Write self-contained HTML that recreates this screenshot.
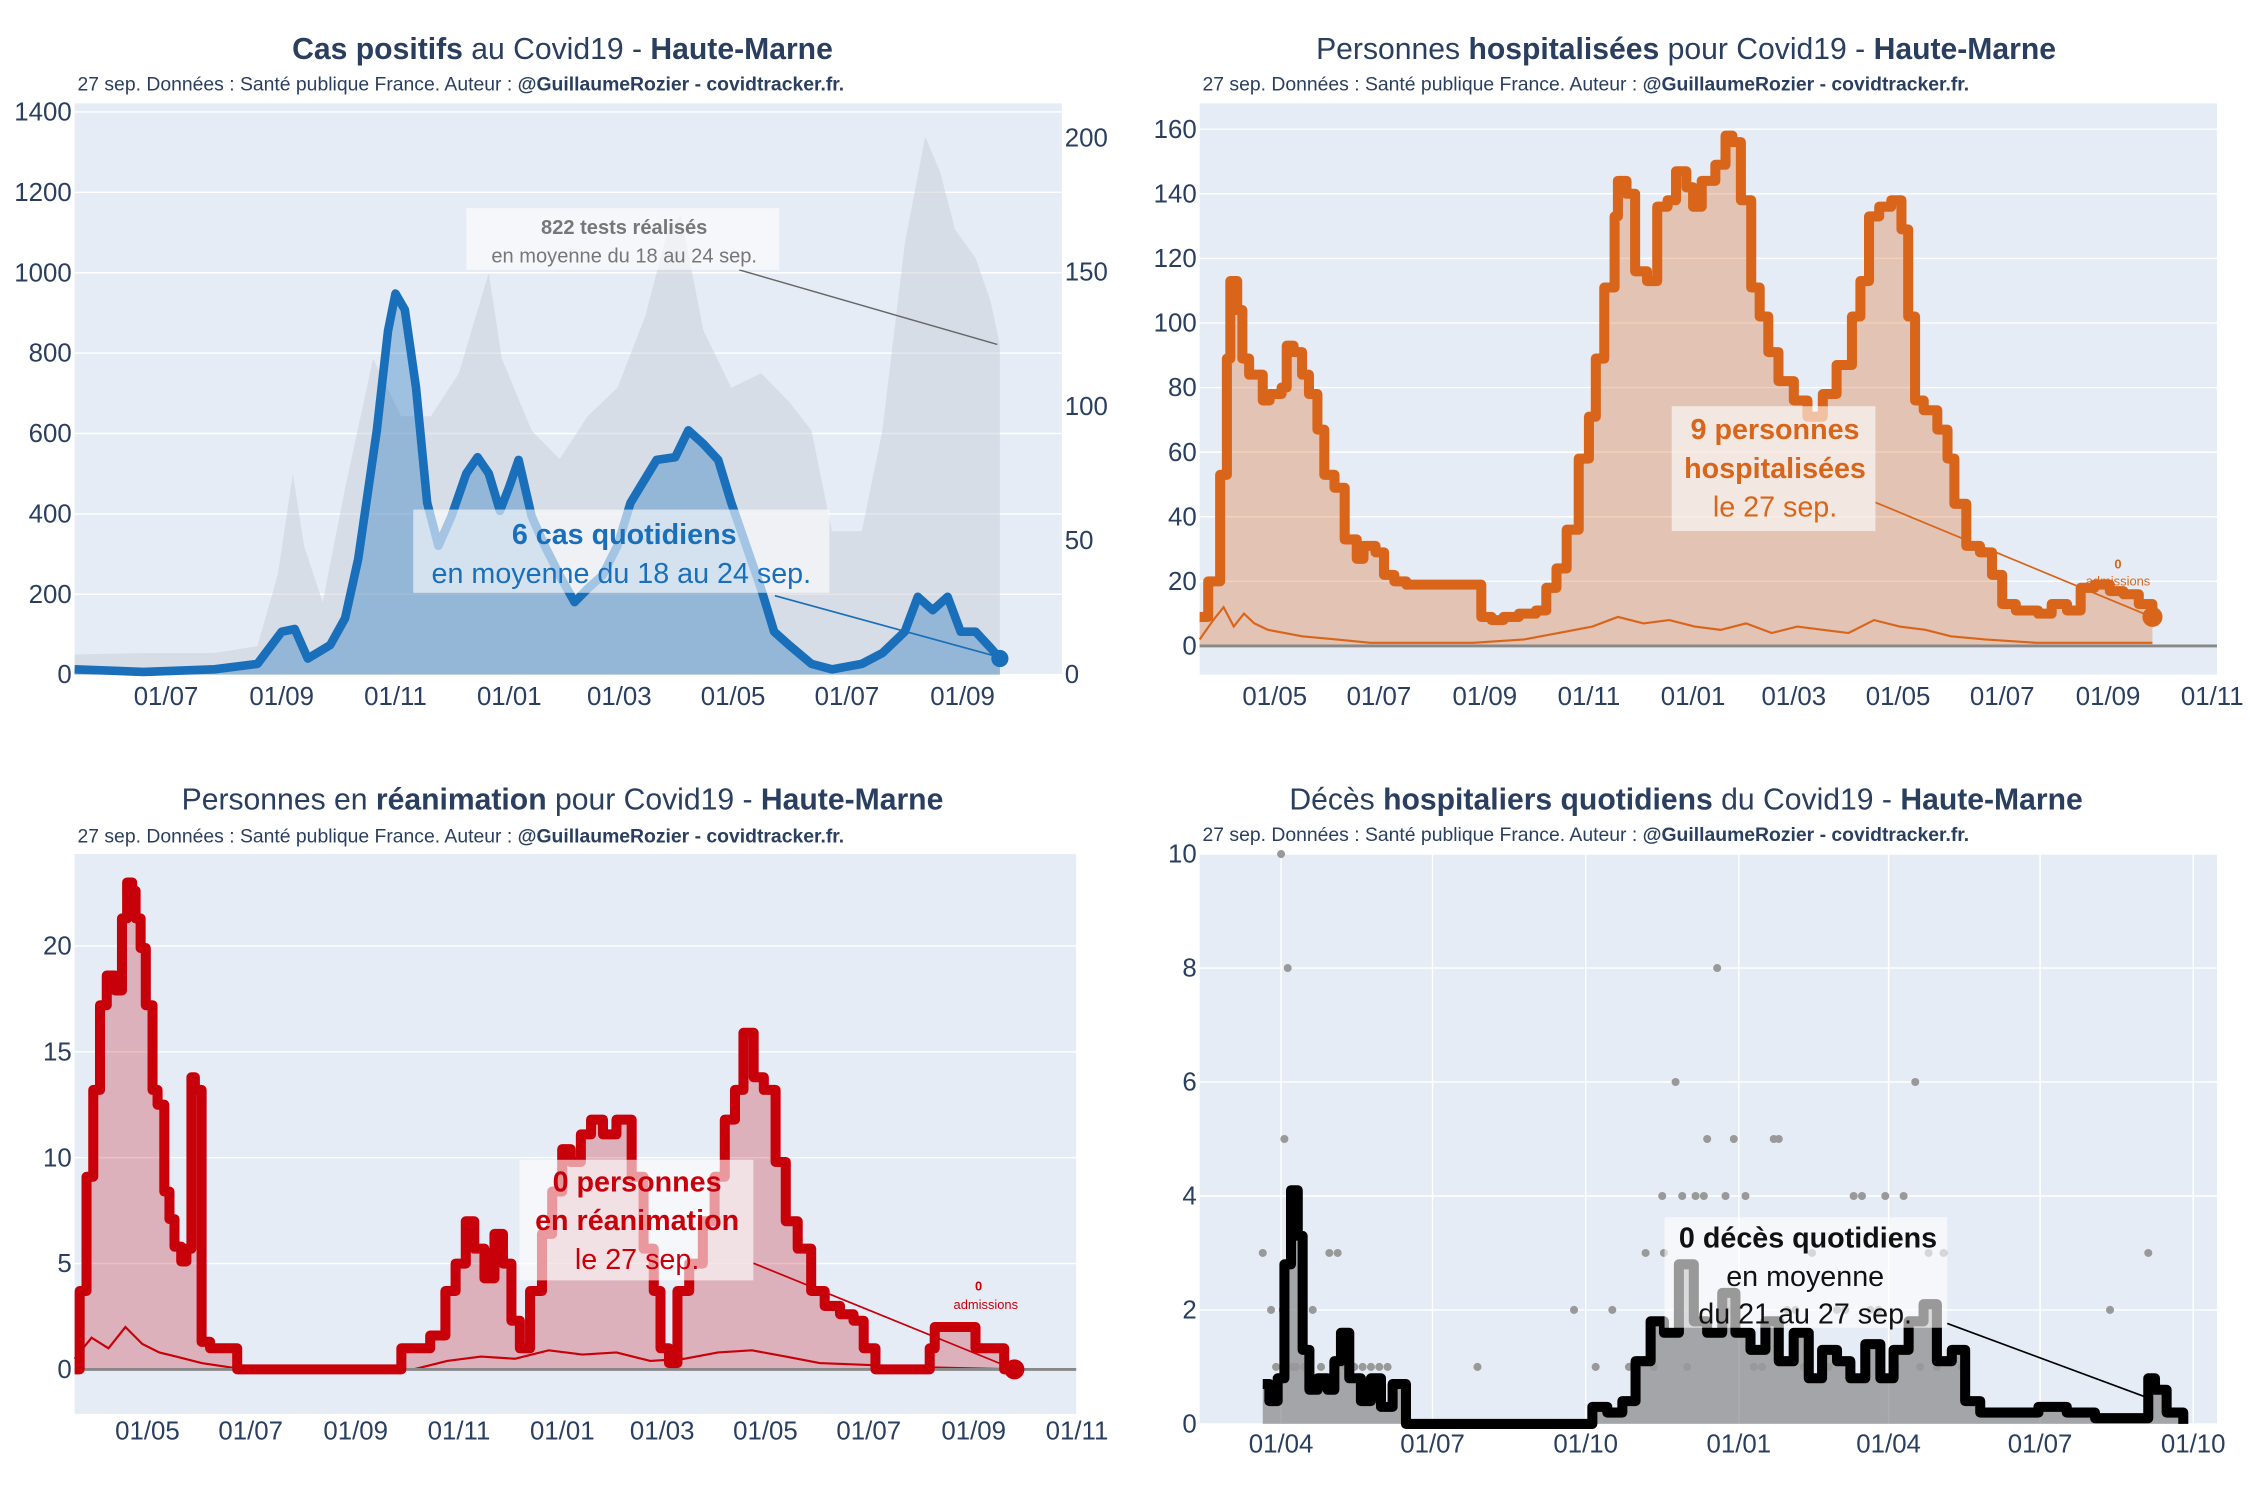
<!DOCTYPE html>
<html><head><meta charset="utf-8">
<style>
html,body{margin:0;padding:0;background:#fff;}
svg{display:block;font-family:"Liberation Sans",sans-serif;}
</style></head>
<body>
<svg id="root" xmlns="http://www.w3.org/2000/svg" width="2250" height="1500" viewBox="0 0 1568 1045" preserveAspectRatio="none">
<rect x="52" y="72" width="688" height="398" fill="#e5ecf6"/>
<rect x="836" y="72" width="709" height="398" fill="#e5ecf6"/>
<rect x="52" y="595" width="698" height="390" fill="#e5ecf6"/>
<rect x="836" y="595" width="709" height="397" fill="#e5ecf6"/>
<g id="g1"></g><g id="g2"></g><g id="g3"></g><g id="g4"></g>

<g fill="#2a3f5f">
<text x="392" y="41" font-size="21" text-anchor="middle"><tspan font-weight="bold">Cas positifs</tspan> au Covid19 - <tspan font-weight="bold">Haute-Marne</tspan></text>
<text x="54" y="63" font-size="13.5">27 sep. Données : Santé publique France. Auteur : <tspan font-weight="bold">@GuillaumeRozier - covidtracker.fr.</tspan></text>
<text x="1175" y="41" font-size="21" text-anchor="middle">Personnes <tspan font-weight="bold">hospitalisées</tspan> pour Covid19 - <tspan font-weight="bold">Haute-Marne</tspan></text>
<text x="838" y="63" font-size="13.5">27 sep. Données : Santé publique France. Auteur : <tspan font-weight="bold">@GuillaumeRozier - covidtracker.fr.</tspan></text>
<text x="392" y="564" font-size="21" text-anchor="middle">Personnes en <tspan font-weight="bold">réanimation</tspan> pour Covid19 - <tspan font-weight="bold">Haute-Marne</tspan></text>
<text x="54" y="587" font-size="13.5">27 sep. Données : Santé publique France. Auteur : <tspan font-weight="bold">@GuillaumeRozier - covidtracker.fr.</tspan></text>
<text x="1175" y="564" font-size="21" text-anchor="middle">Décès <tspan font-weight="bold">hospitaliers quotidiens</tspan> du Covid19 - <tspan font-weight="bold">Haute-Marne</tspan></text>
<text x="838" y="586" font-size="13.5">27 sep. Données : Santé publique France. Auteur : <tspan font-weight="bold">@GuillaumeRozier - covidtracker.fr.</tspan></text>
</g>

<g id="ann">
<line x1="515" y1="188" x2="695" y2="240" stroke="#666" stroke-width="1"/>
<rect x="325" y="145" width="218" height="43" fill="#fff" fill-opacity="0.6"/>
<text x="435" y="163" font-size="14" font-weight="bold" fill="#777" text-anchor="middle">822 tests réalisés</text>
<text x="435" y="183" font-size="14" fill="#777" text-anchor="middle">en moyenne du 18 au 24 sep.</text>
<line x1="540" y1="415" x2="697" y2="458" stroke="#1a6fba" stroke-width="1.2"/>
<rect x="288" y="355" width="290" height="58" fill="#fff" fill-opacity="0.6"/>
<text x="435" y="379" font-size="20" font-weight="bold" fill="#1a6fba" text-anchor="middle">6 cas quotidiens</text>
<text x="433" y="406" font-size="20" fill="#1a6fba" text-anchor="middle">en moyenne du 18 au 24 sep.</text>
<line x1="1307" y1="350" x2="1500" y2="430" stroke="#d9651a" stroke-width="1.2"/>
<rect x="1165" y="283" width="142" height="87" fill="#fff" fill-opacity="0.6"/>
<text x="1237" y="306" font-size="20" font-weight="bold" fill="#d9651a" text-anchor="middle">9 personnes</text>
<text x="1237" y="333" font-size="20" font-weight="bold" fill="#d9651a" text-anchor="middle">hospitalisées</text>
<text x="1237" y="360" font-size="20" fill="#d9651a" text-anchor="middle">le 27 sep.</text>
<text x="1476" y="396" font-size="9" font-weight="bold" fill="#d9651a" text-anchor="middle">0</text>
<text x="1476" y="408" font-size="9" fill="#d9651a" text-anchor="middle">admissions</text>
<line x1="525" y1="880" x2="707" y2="954" stroke="#c8000a" stroke-width="1.2"/>
<rect x="362" y="808" width="163" height="84" fill="#fff" fill-opacity="0.6"/>
<text x="444" y="830" font-size="20" font-weight="bold" fill="#c8000a" text-anchor="middle">0 personnes</text>
<text x="444" y="857" font-size="20" font-weight="bold" fill="#c8000a" text-anchor="middle">en réanimation</text>
<text x="444" y="884" font-size="20" fill="#c8000a" text-anchor="middle">le 27 sep.</text>
<text x="682" y="899" font-size="9" font-weight="bold" fill="#c8000a" text-anchor="middle">0</text>
<text x="687" y="912" font-size="9" fill="#c8000a" text-anchor="middle">admissions</text>
<line x1="1357" y1="922" x2="1500" y2="975" stroke="#000" stroke-width="1.2"/>
<rect x="1160" y="848" width="197" height="77" fill="#fff" fill-opacity="0.6"/>
<text x="1260" y="869" font-size="20" font-weight="bold" fill="#111" text-anchor="middle">0 décès quotidiens</text>
<text x="1258" y="896" font-size="20" fill="#111" text-anchor="middle">en moyenne</text>
<text x="1258" y="922" font-size="20" fill="#111" text-anchor="middle">du 21 au 27 sep.</text>
</g>
</svg>
<script>
// ---------- Chart 1 : cas positifs ----------
const casDays = [0,37,75,98,111,118,125,137,145,152,162,168,172,177,183,189,195,202,210,216,222,228,233,238,245,252,260,268,275,283,291,298,312,322,329,337,345,352,360,368,375,383,395,406,422,433,445,452,460,468,475,483,491,496];
const casVals = [2,1,2,4,16,17,6,11,21,43,91,128,142,136,107,64,48,59,75,81,75,61,70,80,59,48,37,27,32,37,48,64,80,81,91,86,80,64,48,32,16,11,4,2,4,8,16,29,24,29,16,16,10,6];
const testDays = [0,37,75,98,109,117,123,133,145,160,175,191,206,222,229,245,260,275,291,306,318,325,337,352,368,383,395,406,422,433,445,456,464,472,483,491,496];
const testVals = [50,54,54,71,250,500,320,180,464,786,643,643,750,1000,786,607,536,643,714,893,1107,1143,857,714,750,679,607,357,357,607,1071,1339,1250,1107,1036,929,821];
const casLeftTicks = [0,200,400,600,800,1000,1200,1400];
const casRightTicks = [0,50,100,150,200];
const casXTickDays = [49,111,172,233,292,353,414,476];
const casXTickLabels = ["01/07","01/09","01/11","01/01","01/03","01/05","01/07","01/09"];
// ---------- Chart 2 : hospitalisations ----------
const hospDays = [0,5,12,16,18,22,25,29,34,37,41,48,51,55,60,64,69,73,79,85,92,96,103,108,114,121,161,165,171,178,187,197,203,209,215,222,228,232,237,243,245,250,255,262,268,274,279,285,289,294,302,308,312,317,323,328,333,339,348,356,365,373,382,387,392,398,405,411,415,419,424,432,438,442,449,457,464,470,478,491,499,508,516,524,533,541,550,558];
const hospVals = [9,20,53,89,113,104,89,84,84,76,78,80,93,91,84,78,67,53,49,33,27,31,29,22,20,19,19,9,8,9,10,11,18,24,36,58,71,89,111,133,144,140,116,113,136,138,147,142,136,144,149,158,156,138,111,102,91,82,76,71,78,87,102,113,133,136,138,129,102,76,73,67,58,44,31,29,22,13,11,10,13,11,18,19,17,16,13,9];
const hospAdmDays = [0,8,14,20,26,32,40,50,60,80,100,130,160,190,210,230,245,260,275,290,305,320,335,350,365,380,395,410,425,440,460,490,520,558];
const hospAdmVals = [2,8,12,6,10,7,5,4,3,2,1,1,1,2,4,6,9,7,8,6,5,7,4,6,5,4,8,6,5,3,2,1,1,1];
const hospYTicks = [0,20,40,60,80,100,120,140,160];
const hospXTickDays = [44,105,167,228,289,348,409,470,532,593];
const hospXTickLabels = ["01/05","01/07","01/09","01/11","01/01","01/03","01/05","01/07","01/09","01/11"];
// ---------- Chart 3 : réanimation ----------
const reaDays = [0,3,7,11,15,19,24,28,31,34,36,39,42,46,49,53,56,59,63,66,69,71,75,80,92,96,185,193,210,219,225,231,236,242,248,253,258,263,269,276,282,288,293,299,305,312,320,329,336,342,346,351,356,363,371,378,384,390,395,401,407,414,420,427,435,443,452,460,466,473,498,505,508,528,532,541,549,555];
const reaVals = [0,3.7,9.1,13.2,17.2,18.6,17.9,21.3,23,22.6,21.3,19.9,17.2,13.2,12.5,8.4,7.1,5.8,5.1,5.7,13.8,13.2,1.3,1,1,0,0,1,1.6,3.7,5,7,5.7,4.3,6.4,5,2.3,1,3.7,6.4,8.4,10.4,9.8,11.1,11.8,11.1,11.8,9.1,5.7,3.7,1,0.3,3.7,5,7,9.1,11.8,13.2,15.9,13.8,13.2,9.8,7,5.7,3.7,3,2.6,2.3,1,0,0,1,2,2,1,1,0,0];
const reaAdmDays = [0,10,20,30,40,50,60,75,100,200,220,240,260,280,300,320,340,360,380,400,420,440,470,500,555];
const reaAdmVals = [0.5,1.5,1,2,1.2,0.8,0.6,0.3,0,0,0.4,0.6,0.5,0.9,0.7,0.8,0.4,0.5,0.8,0.9,0.6,0.3,0.2,0.1,0];
const reaYTicks = [0,5,10,15,20];
const reaXTickDays = [43,104,166,227,288,347,408,469,531,592];
const reaXTickLabels = ["01/05","01/07","01/09","01/11","01/01","01/03","01/05","01/07","01/09","01/11"];
// ---------- Chart 4 : décès ----------
const dcDays = [0,4,9,13,17,21,24,28,33,39,43,47,52,59,65,71,78,86,190,198,207,216,224,233,241,250,259,267,276,284,293,302,310,319,328,336,345,353,362,371,379,388,397,405,414,422,431,448,466,483,500,526,532,536,543,553];
const dcVals = [0.7,0.4,0.8,2.8,4.1,3.3,1.3,0.6,0.8,0.6,1.1,1.6,0.8,0.4,0.8,0.3,0.7,0,0,0.3,0.2,0.4,1.1,1.8,1.6,2.8,1.8,1.6,2.3,1.6,1.3,1.8,1.1,1.6,0.8,1.3,1.1,0.8,1.4,0.8,1.3,1.8,2.1,1.1,1.3,0.4,0.2,0.2,0.3,0.2,0.1,0.1,0.8,0.6,0.2,0];
const dotDays = [0,5,11,13,15,12,20,30,40,45,50,55,60,65,75,129,187,200,210,220,230,235,241,248,255,260,267,273,280,283,290,300,307,310,320,330,340,350,360,370,374,380,385,392,400,409,420,509,532,8,18,25,35,70,240,252,265,278,295,315,325,345,355,365,395,405];
const dotVals = [3,2,10,5,8,2,1,2,3,3,1,1,1,1,1,1,2,1,2,1,3,1,3,6,1,4,5,8,2,5,4,1,5,5,2,3,1,2,4,2,4,1,4,6,3,3,1,2,3,1,1,1,1,1,4,4,4,4,1,2,1,2,4,2,1,1];
const dcYTicks = [0,2,4,6,8,10];
const dcXTickDays = [11,102,194,286,376,467,559];
const dcXTickLabels = ["01/04","01/07","01/10","01/01","01/04","01/07","01/10"];

const NS = "http://www.w3.org/2000/svg";
function mk(parent, tag, attrs){
  const e = document.createElementNS(NS, tag);
  for (const k in attrs) e.setAttribute(k, attrs[k]);
  parent.appendChild(e);
  return e;
}
function linePath(days, vals, xs, ys, step){
  let p = "";
  days.forEach((d,i)=>{
    const x = xs(d).toFixed(1), y = ys(vals[i]).toFixed(1);
    if (i===0) p += "M"+x+","+y;
    else if (step) p += "H"+x+"V"+y;
    else p += "L"+x+","+y;
  });
  return p;
}
function areaPath(days, vals, xs, ys, step){
  return linePath(days, vals, xs, ys, step)+"L"+xs(days[days.length-1]).toFixed(1)+","+ys(0).toFixed(1)+"L"+xs(days[0]).toFixed(1)+","+ys(0).toFixed(1)+"Z";
}
function yGrid(g, ticks, ys, x0, x1, labelX, anchor){
  ticks.forEach(t=>{
    const l = mk(g,"line",{x1:x0,x2:x1,y1:ys(t),y2:ys(t),stroke:"#fff","stroke-width":1});
    
    
    const tx = mk(g,"text",{x:labelX,y:ys(t)+6,"font-size":18,fill:"#2a3f5f","text-anchor":anchor});
    tx.textContent = t;
    
    
  });
}
function xTicks(g, days, labels, xs, y, grid, gy0, gy1){
  days.forEach((d,i)=>{
    if (grid){
      const l = mk(g,"line",{x1:xs(d),x2:xs(d),y1:gy0,y2:gy1,stroke:"#fff","stroke-width":1});
      
      
    }
    const tx = mk(g,"text",{x:xs(d),y:y,"font-size":18,fill:"#2a3f5f","text-anchor":"middle"});
    tx.textContent = labels[i];
    
    
  });
}

// Chart 1
(function(){
  const g = document.getElementById("g1");
  const xs = d=>52+d*1.3, yL = v=>470-v*0.28, yR = v=>470-v*1.87;
  yGrid(g, casLeftTicks, yL, 52, 740, 50, "end");
  casRightTicks.forEach(t=>{
    const tx = mk(g,"text",{x:742,y:yR(t)+6,"font-size":18,fill:"#2a3f5f"});
    tx.textContent = t;
    
    
  });
  const ta = mk(g,"path",{d:areaPath(testDays,testVals,xs,yL,false),fill:"#c9ced6","fill-opacity":0.5});
  
  
  const ca = mk(g,"path",{d:areaPath(casDays,casVals,xs,yR,false),fill:"#1a6fba","fill-opacity":0.35});
  
  
  const cl = mk(g,"path",{d:linePath(casDays,casVals,xs,yR,false),fill:"none",stroke:"#1a6fba","stroke-width":6,"stroke-linejoin":"round"});
  
  
  const n = casDays.length-1;
  const m = mk(g,"circle",{cx:xs(casDays[n]),cy:yR(casVals[n]),r:6,fill:"#1a6fba"});
  
  
  xTicks(g, casXTickDays, casXTickLabels, xs, 491, false);
})();
// Chart 2
(function(){
  const g = document.getElementById("g2");
  const xs = d=>836+d*1.19, ys = v=>450-v*2.25;
  yGrid(g, hospYTicks, ys, 836, 1545, 834, "end");
  const ha = mk(g,"path",{d:areaPath(hospDays,hospVals,xs,ys,true),fill:"#d9651a","fill-opacity":0.3});
  
  
  const al = mk(g,"path",{d:linePath(hospAdmDays,hospAdmVals,xs,ys,false),fill:"none",stroke:"#d9651a","stroke-width":1.5});
  
  
  const hl = mk(g,"path",{d:linePath(hospDays,hospVals,xs,ys,true),fill:"none",stroke:"#d9651a","stroke-width":7,"stroke-linejoin":"round"});
  
  
  const n = hospDays.length-1;
  const m = mk(g,"circle",{cx:xs(hospDays[n]),cy:ys(hospVals[n]),r:7,fill:"#d9651a"});
  
  
  const b = mk(g,"line",{x1:836,x2:1545,y1:ys(0),y2:ys(0),stroke:"#888","stroke-width":2});
  
  
  xTicks(g, hospXTickDays, hospXTickLabels, xs, 491, false);
})();
// Chart 3
(function(){
  const g = document.getElementById("g3");
  const xs = d=>52+d*1.18, ys = v=>954-v*14.75;
  yGrid(g, reaYTicks, ys, 52, 750, 50, "end");
  const ra = mk(g,"path",{d:areaPath(reaDays,reaVals,xs,ys,true),fill:"#c8000a","fill-opacity":0.25});
  
  
  const al = mk(g,"path",{d:linePath(reaAdmDays,reaAdmVals,xs,ys,false),fill:"none",stroke:"#c8000a","stroke-width":1.5});
  
  
  const b = mk(g,"line",{x1:52,x2:750,y1:ys(0),y2:ys(0),stroke:"#888","stroke-width":2});
  
  
  const rl = mk(g,"path",{d:linePath(reaDays,reaVals,xs,ys,true),fill:"none",stroke:"#c8000a","stroke-width":7,"stroke-linejoin":"round"});
  
  
  const n = reaDays.length-1;
  const m = mk(g,"circle",{cx:xs(reaDays[n]),cy:ys(reaVals[n]),r:7,fill:"#c8000a"});
  
  
  xTicks(g, reaXTickDays, reaXTickLabels, xs, 1003, false);
})();
// Chart 4
(function(){
  const g = document.getElementById("g4");
  const xs = d=>880+d*1.16, ys = v=>992-v*39.7;
  yGrid(g, dcYTicks, ys, 836, 1545, 834, "end");
  xTicks(g, dcXTickDays, dcXTickLabels, xs, 1012, true, 595, 992);
  const da = mk(g,"path",{d:areaPath(dcDays,dcVals,xs,ys,true),fill:"#777","fill-opacity":0.6});
  
  
  dotDays.forEach((d,i)=>{
    const c = mk(g,"circle",{cx:xs(d),cy:ys(dotVals[i]),r:2.8,fill:"#999"});
    
    
  });
  const dl = mk(g,"path",{d:linePath(dcDays,dcVals,xs,ys,true),fill:"none",stroke:"#000","stroke-width":7,"stroke-linejoin":"round"});
  
  
})();
</script>
</body></html>
